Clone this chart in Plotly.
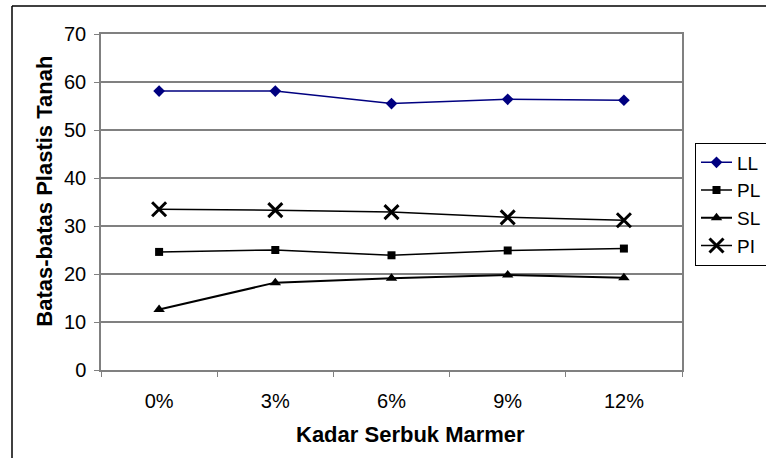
import plotly.graph_objects as go

categories = ["0%", "3%", "6%", "9%", "12%"]
LL = [58.1, 58.1, 55.5, 56.4, 56.2]
PL = [24.6, 25.0, 23.9, 24.9, 25.3]
SL = [12.6, 18.2, 19.1, 19.8, 19.2]
PI = [33.5, 33.3, 32.9, 31.8, 31.2]
y_ticks = [0, 10, 20, 30, 40, 50, 60, 70]

FONT = "Liberation Sans, Arial, sans-serif"

W, H = 766, 458
L, R, T, B = 101, 84, 34, 88
PW, PH = W - L - R, H - T - B


def px(xd):
    # window x -> paper x
    return (xd - L) / PW


def py(yd):
    # window y -> paper y
    return (H - B - yd) / PH


fig = go.Figure()
fig.add_trace(go.Scatter(x=categories, y=LL, name="LL", mode="lines+markers",
                         line=dict(color="#000080", width=1.5),
                         marker=dict(symbol="diamond", size=9, color="#000080")))
fig.add_trace(go.Scatter(x=categories, y=PL, name="PL", mode="lines+markers",
                         line=dict(color="black", width=1.5),
                         marker=dict(symbol="square", size=8, color="black")))
fig.add_trace(go.Scatter(x=categories, y=SL, name="SL", mode="lines+markers",
                         line=dict(color="black", width=2),
                         marker=dict(symbol="triangle-up", size=10, color="black")))
fig.add_trace(go.Scatter(x=categories, y=PI, name="PI", mode="lines+markers",
                         line=dict(color="black", width=1.5),
                         marker=dict(symbol="x-thin", size=14, color="black",
                                     line=dict(color="black", width=3))))

fig.update_layout(
    width=W, height=H,
    margin=dict(l=L, r=R, t=T, b=B, autoexpand=False),
    paper_bgcolor="white", plot_bgcolor="white",
    font=dict(family=FONT, size=20, color="black"),
    showlegend=True,
    legend=dict(x=px(695), y=py(142.5), xanchor="left", yanchor="top",
                bordercolor="black", borderwidth=1, bgcolor="white",
                font=dict(size=19), tracegroupgap=0, itemwidth=31),
    xaxis=dict(type="category", range=[-0.5, 4.5], tickson="boundaries",
               ticks="outside", ticklen=5, tickcolor="#808080",
               showline=True, linecolor="#808080", linewidth=1.5, mirror=True,
               showgrid=False, ticklabelstandoff=12, automargin=False,
               tickfont=dict(size=20)),
    yaxis=dict(range=[0, 70], tickvals=y_ticks, ticks="outside", ticklen=5,
               tickcolor="#808080", showline=True, linecolor="#808080",
               linewidth=1.5, mirror=True, showgrid=True, gridcolor="#808080",
               gridwidth=1.5, zeroline=False, ticklabelstandoff=4, automargin=False,
               tickfont=dict(size=20)),
    annotations=[
        dict(text="<b>Kadar Serbuk Marmer</b>", xref="paper", yref="paper",
             x=px(410.8), y=py(434), showarrow=False,
             xanchor="center", yanchor="middle", font=dict(size=22)),
        dict(text="<b>Batas-batas Plastis Tanah</b>", xref="paper", yref="paper",
             x=px(45), y=py(191.7), showarrow=False,
             textangle=-90, xanchor="center", yanchor="middle", font=dict(size=22)),
    ],
    shapes=[
        dict(type="line", xref="paper", yref="paper",
             x0=px(12), y0=py(6), x1=px(W + 10), y1=py(6),
             line=dict(color="black", width=1.5), layer="above"),
        dict(type="line", xref="paper", yref="paper",
             x0=px(12), y0=py(6), x1=px(12), y1=py(H + 10),
             line=dict(color="black", width=1.5), layer="above"),
    ],
)

fig.write_html("out.html", config={"displayModeBar": False},
               post_script="document.body.style.margin='0';document.body.style.overflow='hidden';")
